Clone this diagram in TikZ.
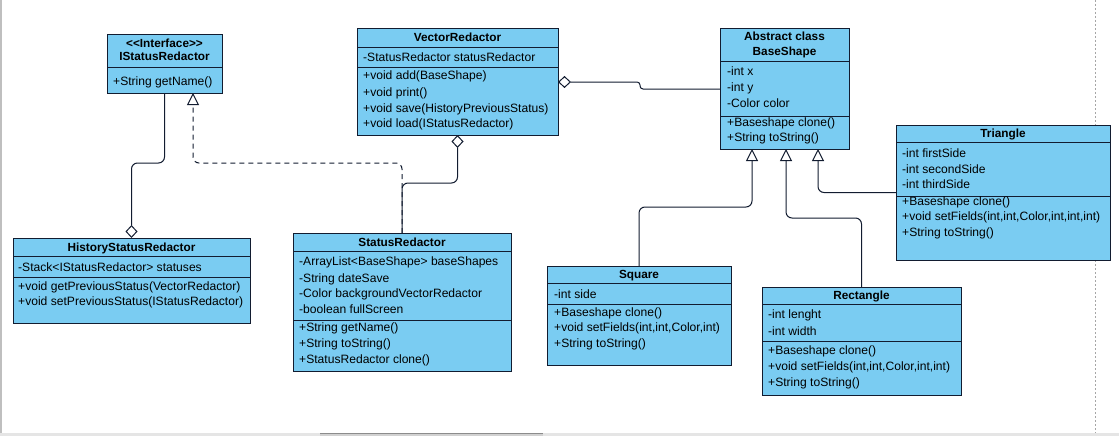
\documentclass[tikz,border=0pt]{standalone}
\usepackage{fontspec}
\setmainfont{Liberation Sans}
\usetikzlibrary{arrows.meta}
\definecolor{umlblue}{RGB}{122,204,242}
\definecolor{umlline}{RGB}{18,28,48}
\begin{document}
\begin{tikzpicture}[x=1pt,y=-1pt,
  classbox/.style={draw=umlline, fill=umlblue, line width=1pt, anchor=north west, inner sep=0pt, outer sep=0pt},
  divider/.style={draw=umlline, line width=1pt},
  member/.style={anchor=base west, inner sep=0pt, font=\fontsize{12.1}{14}\selectfont},
  title/.style={anchor=base, inner sep=0pt, font=\fontsize{11.8}{14}\selectfont\bfseries},
  conn/.style={draw=umlline, line width=1pt, rounded corners=6pt},
  aggend/.style={conn, -{Diamond[fill=white, length=13pt, width=12pt]}},
  aggstart/.style={conn, {Diamond[fill=white, length=13pt, width=12pt]}-},
  gen/.style={conn, -{Triangle[fill=white, length=12pt, width=12pt]}},
  realiz/.style={gen, dash pattern=on 5pt off 4pt}
]
\useasboundingbox (0,0) rectangle (1119,436);
\fill[white] (0,0) rectangle (1119,436);
% window chrome
\draw[black!25, line width=1.5pt] (1,0) -- (1,433);
\draw[black!35, line width=0.8pt, dash pattern=on 2pt off 2pt] (1095,0) -- (1095,433);
\fill[black!10] (0,433) rectangle (1119,436);
\fill[black!18] (320,433) rectangle (543,436);
\draw[black!45, line width=0.8pt] (320,433.5) -- (543,433.5);

% ---------- IStatusRedactor ----------
\node[classbox, minimum width=115pt, minimum height=58pt] (ist) at (107,35) {};
\draw[divider] (107,68) -- (222,68);
\node[title] (ist-t1) at (164.5,48) {{<}{<}Interface{>}{>}};
\node[title] (ist-t2) at (164.5,61) {IStatusRedactor};
\node[member] (ist-m1) at (113,85) {+String getName()};

% ---------- HistoryStatusRedactor ----------
\node[classbox, minimum width=237pt, minimum height=85pt] (hsr) at (13,238) {};
\draw[divider] (13,256) -- (250,256);
\draw[divider] (13,277) -- (250,277);
\node[title] (hsr-t) at (131.5,251) {HistoryStatusRedactor};
\node[member] (hsr-a1) at (18,271) {-Stack<IStatusRedactor> statuses};
\node[member] (hsr-m1) at (18,290) {+void getPreviousStatus(VectorRedactor)};
\node[member] (hsr-m2) at (18,305) {+void setPreviousStatus(IStatusRedactor)};

% ---------- VectorRedactor ----------
\node[classbox, minimum width=201pt, minimum height=106pt] (vr) at (357,29) {};
\draw[divider] (357,48) -- (558,48);
\draw[divider] (357,68) -- (558,68);
\node[title] (vr-t) at (457.5,42) {VectorRedactor};
\node[member] (vr-a1) at (363,62) {-StatusRedactor statusRedactor};
\node[member] (vr-m1) at (363,80) {+void add(BaseShape)};
\node[member] (vr-m2) at (363,96) {+void print()};
\node[member] (vr-m3) at (363,112) {+void save(HistoryPreviousStatus)};
\node[member] (vr-m4) at (363,127) {+void load(IStatusRedactor)};

% ---------- StatusRedactor ----------
\node[classbox, minimum width=218pt, minimum height=138pt] (sr) at (293,233) {};
\draw[divider] (293,251) -- (511,251);
\draw[divider] (293,320) -- (511,320);
\node[title] (sr-t) at (402,246) {StatusRedactor};
\node[member] (sr-a1) at (299,265) {-ArrayList<BaseShape> baseShapes};
\node[member] (sr-a2) at (299,282) {-String dateSave};
\node[member] (sr-a3) at (299,297) {-Color backgroundVectorRedactor};
\node[member] (sr-a4) at (299,313) {-boolean fullScreen};
\node[member] (sr-m1) at (299,331) {+String getName()};
\node[member] (sr-m2) at (299,347) {+String toString()};
\node[member] (sr-m3) at (299,363) {+StatusRedactor clone()};

% ---------- BaseShape ----------
\node[classbox, minimum width=129pt, minimum height=120pt] (bs) at (720,29) {};
\draw[divider] (720,62) -- (849,62);
\draw[divider] (720,116) -- (849,116);
\node[title] (bs-t1) at (784.5,41) {Abstract class};
\node[title] (bs-t2) at (784.5,56) {BaseShape};
\node[member] (bs-a1) at (727,76) {-int x};
\node[member] (bs-a2) at (727,92) {-int y};
\node[member] (bs-a3) at (727,107) {-Color color};
\node[member] (bs-m1) at (727,126.5) {+Baseshape clone()};
\node[member] (bs-m2) at (727,141.5) {+String toString()};

% ---------- Triangle ----------
\node[classbox, minimum width=214pt, minimum height=135pt] (tri) at (896,125) {};
\draw[divider] (896,142) -- (1110,142);
\draw[divider] (896,196) -- (1110,196);
\node[title] (tri-t) at (1003,137) {Triangle};
\node[member] (tri-a1) at (902,157) {-int firstSide};
\node[member] (tri-a2) at (902,173) {-int secondSide};
\node[member] (tri-a3) at (902,188) {-int thirdSide};
\node[member] (tri-m1) at (902,205.5) {+Baseshape clone()};
\node[member] (tri-m2) at (902,220.5) {+void setFields(int,int,Color,int,int,int)};
\node[member] (tri-m3) at (902,236) {+String toString()};

% ---------- Square ----------
\node[classbox, minimum width=184pt, minimum height=99pt] (sq) at (547,266) {};
\draw[divider] (547,283) -- (731,283);
\draw[divider] (547,304) -- (731,304);
\node[title] (sq-t) at (639,278) {Square};
\node[member] (sq-a1) at (554,298) {-int side};
\node[member] (sq-m1) at (554,316.5) {+Baseshape clone()};
\node[member] (sq-m2) at (554,331.5) {+void setFields(int,int,Color,int)};
\node[member] (sq-m3) at (554,347) {+String toString()};

% ---------- Rectangle ----------
\node[classbox, minimum width=199pt, minimum height=108pt] (rect) at (762,287) {};
\draw[divider] (762,304) -- (961,304);
\draw[divider] (762,341) -- (961,341);
\node[title] (rect-t) at (861.5,299) {Rectangle};
\node[member] (rect-a1) at (768,318) {-int lenght};
\node[member] (rect-a2) at (768,335) {-int width};
\node[member] (rect-m1) at (768,354) {+Baseshape clone()};
\node[member] (rect-m2) at (768,370) {+void setFields(int,int,Color,int,int)};
\node[member] (rect-m3) at (768,386) {+String toString()};

% ---------- connectors ----------
\draw[aggend] (ist.south) -- ++(0,70) -| (hsr.north);
\draw[realiz] (sr.north) -- ++(0,-70) -| ([xshift=28.5pt]ist.south);
\draw[aggstart] (vr.south) -- ++(0,48) -| (sr.north);
\draw[aggstart, rounded corners=3pt] (vr.east) -- (640,82) -- (640,89) -- (bs.west);
\draw[gen] (sq.north) -- ++(0,-59) -| ([xshift=-32.5pt]bs.south);
\draw[gen] (rect.north) -- ++(0,-69) -| ([xshift=1.5pt]bs.south);
\draw[gen] (tri.west) -| ([xshift=33.5pt]bs.south);
\end{tikzpicture}
\end{document}
